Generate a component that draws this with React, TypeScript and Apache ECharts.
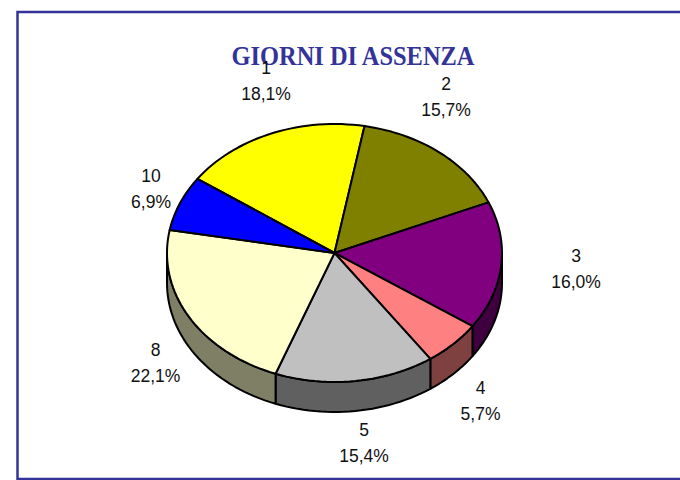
import React, { useEffect, useRef } from "react";
import * as echarts from "echarts";

const titleText = "GIORNI DI ASSENZA";
const categories = ["1", "2", "3", "4", "5", "8", "10"];
const shares = [18.1, 15.7, 16.0, 5.7, 15.4, 22.1, 6.9];
const shareLabels = ["18,1%", "15,7%", "16,0%", "5,7%", "15,4%", "22,1%", "6,9%"];
const colors = ["#ffff00", "#808000", "#800080", "#ff8080", "#c0c0c0", "#ffffcc", "#0000ff"];
const labelCenters = [
  [266, 81], [446, 97], [576, 269], [480.5, 401], [364, 443], [155.5, 363], [151, 189],
];

const CX = 334.5, CY = 253, RX = 167.5, RY = 129, DEPTH = 30, START = -54.9;
const total = shares.reduce((a, b) => a + b, 0);

const startOf = (i: number) =>
  START + (shares.slice(0, i).reduce((a, b) => a + b, 0) / total) * 360;
const pt = (deg: number, dy = 0) => {
  const r = (deg * Math.PI) / 180;
  return [CX + RX * Math.sin(r), CY - RY * Math.cos(r) + dy];
};
const arc = (a: number, b: number, dy = 0) => {
  const n = Math.max(2, Math.ceil((b - a) / 2));
  const out: number[][] = [];
  for (let k = 0; k <= n; k++) out.push(pt(a + ((b - a) * k) / n, dy));
  return out;
};
const shade = (hex: string) => {
  const n = parseInt(hex.slice(1), 16);
  const h = (v: number) => (v >> 1).toString(16).padStart(2, "0");
  return "#" + h((n >> 16) & 255) + h((n >> 8) & 255) + h(n & 255);
};

const edge = { stroke: "#000", lineWidth: 2, lineJoin: "round" };

function renderSide(params: any) {
  const i = params.dataIndex;
  const a = Math.max(startOf(i), 90);
  const b = Math.min(startOf(i + 1), 270);
  if (b <= a) return { type: "group", children: [] };
  const points = [...arc(a, b, 0), ...arc(a, b, DEPTH).reverse()];
  return { type: "polygon", shape: { points }, style: { fill: shade(colors[i]), ...edge } };
}

function renderTop(params: any) {
  const i = params.dataIndex;
  const points = [[CX, CY], ...arc(startOf(i), startOf(i + 1))];
  return { type: "polygon", shape: { points }, style: { fill: colors[i], ...edge } };
}

function renderLabel(params: any) {
  const i = params.dataIndex;
  return {
    type: "text",
    x: labelCenters[i][0],
    y: labelCenters[i][1],
    style: {
      text: categories[i] + "\n" + shareLabels[i],
      fill: "#111",
      font: '17.5px "Liberation Sans"',
      lineHeight: 26,
      textAlign: "center",
      textVerticalAlign: "middle",
    },
  };
}

export default function App() {
  const ref = useRef<HTMLDivElement>(null);
  useEffect(() => {
    document.body.style.margin = "0";
    const chart = echarts.init(ref.current!, undefined, { renderer: "svg" });
    const data = shares.map((v, i) => ({ name: categories[i], value: v }));
    chart.setOption({
      animation: false,
      backgroundColor: "#fff",
      graphic: [
        {
          type: "rect",
          shape: { x: 17.5, y: 12, width: 680, height: 467 },
          style: { fill: "none", stroke: "#333399", lineWidth: 2.5 },
          silent: true,
        },
        {
          type: "text",
          x: 353,
          y: 56,
          scaleX: 0.905,
          style: {
            text: titleText,
            font: 'bold 27px "Liberation Serif"',
            fill: "#333399",
            textAlign: "center",
            textVerticalAlign: "middle",
          },
          silent: true,
        },
      ],
      series: [
        { type: "custom", coordinateSystem: "none", renderItem: renderSide, data, z: 2, silent: true },
        { type: "custom", coordinateSystem: "none", renderItem: renderTop, data, z: 3, silent: true },
        { type: "custom", coordinateSystem: "none", renderItem: renderLabel, data, z: 10, silent: true },
      ],
    });
    return () => chart.dispose();
  }, []);
  return <div ref={ref} style={{ width: 680, height: 480 }} />;
}
